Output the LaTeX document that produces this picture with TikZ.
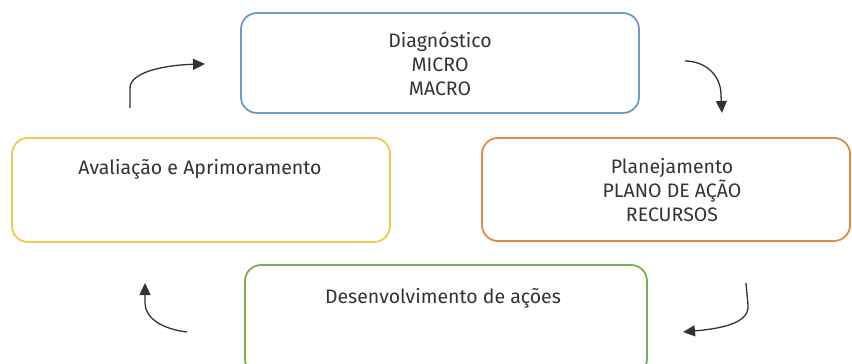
\documentclass[tikz,border=0pt]{standalone}
\usepackage{fontspec}
\setmainfont{Fira Sans}
\usetikzlibrary{arrows.meta}
\definecolor{cblue}{HTML}{6E9CC6}
\definecolor{cyellow}{HTML}{F2C94A}
\definecolor{corange}{HTML}{E08A45}
\definecolor{cgreen}{HTML}{7DAA5A}
\definecolor{ctext}{HTML}{333333}
\begin{document}
\begin{tikzpicture}[x=1pt,y=-1pt,
  stagebox/.style={draw, line width=1.8pt, rounded corners=16pt, fill=white},
  lbl/.style={text=ctext, font=\fontsize{19.5}{24}\selectfont, align=center, inner sep=0pt},
  cyc/.style={line width=1.3pt, draw=black!80, -{Triangle[length=12pt,width=11pt]}}]
\useasboundingbox (0,0) rectangle (852,364);
\clip (0,0) rectangle (852,364);
% boxes
\node[stagebox, draw=cblue, minimum width=398pt, minimum height=100pt] (diag) at (440,63) {};
\node[stagebox, draw=cyellow, minimum width=378pt, minimum height=104pt] (aval) at (201,190) {};
\node[stagebox, draw=corange, minimum width=368pt, minimum height=103pt] (plan) at (666,189.5) {};
\node[stagebox, draw=cgreen, minimum width=402pt, minimum height=110pt] (dev) at (446,320) {};
% texts
\node[lbl] (tdiag) at (440,64) {Diagnóstico\\MICRO\\MACRO};
\node[lbl] (taval) at (200,169) {Avaliação e Aprimoramento};
\node[lbl] (tplan) at (672,190) {Planejamento\\PLANO DE AÇÃO\\RECURSOS};
\node[lbl] (tdev) at (443,298) {Desenvolvimento de ações};
% arrow end points
\coordinate (a1s) at (130,108);
\coordinate (a1e) at (205,64);
\coordinate (a2s) at (685,61);
\coordinate (a2e) at (722,113);
\coordinate (a3s) at (746,283);
\coordinate (a3e) at (683,332);
\coordinate (a4s) at (187,332);
\coordinate (a4e) at (145,283);
\draw[cyc] (a1s) -- (130,88) .. controls (130,72) and (165,65) .. (a1e);
\draw[cyc] (a2s) .. controls (705,61) and (721,75) .. (721,95) -- (a2e);
\draw[cyc] (a3s) -- (748,305) .. controls (750,325) and (715,329) .. (a3e);
\draw[cyc] (a4s) .. controls (162,329) and (145,318) .. (145,303) -- (a4e);
\end{tikzpicture}
\end{document}
